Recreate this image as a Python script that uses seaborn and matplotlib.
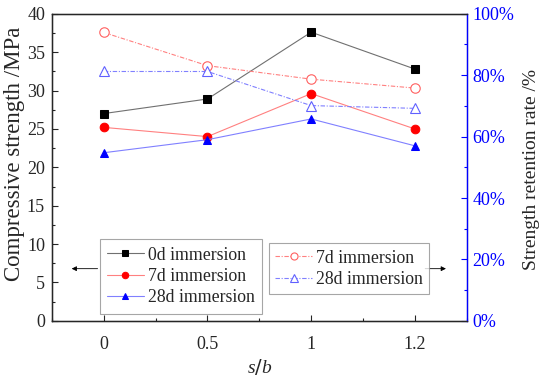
import numpy as np
import pandas as pd
import seaborn as sns
import matplotlib.pyplot as plt
from matplotlib.ticker import MultipleLocator, FuncFormatter

# data
sb_labels = ['0', '0.5', '1', '1.2']
strength_0d = [27.0, 28.9, 37.6, 32.8]
strength_7d = [25.2, 24.0, 29.6, 25.0]
strength_28d = [21.9, 23.6, 26.3, 22.8]
retention_7d = [93.9, 83.1, 78.7, 75.8]
retention_28d = [81.2, 81.2, 70.1, 69.2]

sns.set_style('ticks')
plt.rcParams['font.family'] = ['Liberation Serif', 'DejaVu Serif']
plt.rcParams['font.size'] = 13
plt.rcParams['mathtext.fontset'] = 'custom'
plt.rcParams['mathtext.it'] = 'Liberation Serif:italic'

df = pd.DataFrame({'pos': np.arange(len(sb_labels)), 'sb': sb_labels,
                   's0': strength_0d, 's7': strength_7d, 's28': strength_28d,
                   'r7': retention_7d, 'r28': retention_28d})

fig = plt.figure(figsize=(5.5, 3.82), dpi=100)
ax = fig.add_axes([0.0945, 0.16, 0.754, 0.804])
ax2 = ax.twinx()

# left axis: compressive strength
sns.lineplot(data=df, x='pos', y='s0', ax=ax, color='#707070', lw=0.8,
             marker='s', ms=5.5, mfc='black', mec='black', label='0d immersion')
sns.lineplot(data=df, x='pos', y='s7', ax=ax, color='#ff8080', lw=0.8,
             marker='o', ms=6.2, mfc='red', mec='red', label='7d immersion')
sns.lineplot(data=df, x='pos', y='s28', ax=ax, color='#8080ff', lw=0.8,
             marker='^', ms=6.2, mfc='blue', mec='blue', label='28d immersion')

# right axis: retention rate
sns.lineplot(data=df, x='pos', y='r7', ax=ax2, color='#ff8080', lw=0.8,
             ls=(0, (4, 1.5, 1, 1.5)), marker='o', ms=6.8, mfc='white',
             mec='#ff6060', mew=0.8, label='7d immersion')
sns.lineplot(data=df, x='pos', y='r28', ax=ax2, color='#8080ff', lw=0.8,
             ls=(0, (4, 1.5, 1, 1.5)), marker='^', ms=6.8, mfc='white',
             mec='#6060ff', mew=0.8, label='28d immersion')

ax.set_xlim(-0.5, 3.5)
ax.set_ylim(0, 40)
ax2.set_ylim(0, 100)
ax.set_xticks(df['pos'])
ax.set_xticklabels(sb_labels)
ax.xaxis.set_minor_locator(MultipleLocator(0.5))
ax.yaxis.set_major_locator(MultipleLocator(5))
ax.yaxis.set_minor_locator(MultipleLocator(2.5))
ax2.yaxis.set_major_locator(MultipleLocator(20))
ax2.yaxis.set_minor_locator(MultipleLocator(10))
ax2.yaxis.set_major_formatter(FuncFormatter(lambda v, p: '%d%%' % v))

ax.tick_params(axis='x', which='both', direction='in', labelsize=13, pad=11)
ax.tick_params(axis='y', which='both', direction='in', labelsize=13, pad=5)
ax.tick_params(which='major', length=4, width=0.8)
ax.tick_params(which='minor', length=2, width=0.8)
ax2.tick_params(which='both', direction='in', colors='blue', labelsize=13, pad=4)
ax2.tick_params(which='major', length=4, width=0.8)
ax2.tick_params(which='minor', length=2, width=0.8)
ax2.spines['right'].set_color('blue')
ax2.spines['right'].set_linewidth(1.0)
for s in ['left', 'bottom', 'top']:
    ax.spines[s].set_linewidth(1.0)
    ax.spines[s].set_color('black')

ax.set_xlabel('$s/b$', fontsize=14, labelpad=3)
ax.set_ylabel('Compressive strength /MPa', fontsize=16.5)
ax.yaxis.set_label_coords(-0.064, 0.544)
ax2.set_ylabel('Strength retention rate /%', fontsize=14)
ax2.yaxis.set_label_coords(1.136, 0.492)

leg1 = ax.legend(loc='upper left', bbox_to_anchor=(0.115, 0.265), fontsize=12.8,
                 frameon=True, fancybox=False, edgecolor='#909090',
                 handlelength=2.1, handletextpad=0.2, borderpad=0.4,
                 labelspacing=0.25, borderaxespad=0, markerscale=0.75)
leg1.get_frame().set_linewidth(0.8)
leg2 = ax2.legend(loc='upper left', bbox_to_anchor=(0.523, 0.252), fontsize=12.8,
                  frameon=True, fancybox=False, edgecolor='#909090',
                  handlelength=2.1, handletextpad=0.2, borderpad=0.35,
                  labelspacing=0.25, borderaxespad=0, markerscale=0.75)
leg2.get_frame().set_linewidth(0.8)

# arrows pointing to the matching axis
ax.annotate('', xy=(-0.31, 6.8), xytext=(-0.06, 6.8),
            arrowprops=dict(arrowstyle='-|>', color='black', lw=0.6,
                            mutation_scale=7, shrinkA=0, shrinkB=0))
ax.annotate('', xy=(3.30, 6.8), xytext=(3.10, 6.8),
            arrowprops=dict(arrowstyle='-|>', color='black', lw=0.6,
                            mutation_scale=7, shrinkA=0, shrinkB=0))

fig.savefig('out.png', dpi=100)
